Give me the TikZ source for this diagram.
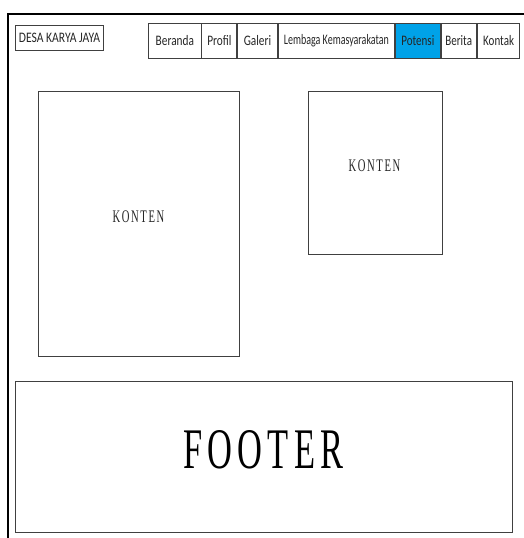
\documentclass[tikz,border=0pt]{standalone}
\usepackage{fontspec}
\usepackage{graphicx}
\setmainfont{Liberation Serif}
\newfontfamily\navfont{Carlito}
\newfontfamily\spacedserif[LetterSpace=15]{Liberation Serif}
\newcommand{\navtxt}[2][0.72]{{\navfont\fontsize{14.5}{14.5}\selectfont\scalebox{#1}[1]{#2}}}
\newcommand{\bigtxt}[2]{{\spacedserif\fontsize{#1}{#1}\selectfont\scalebox{0.6}[1]{#2}}}
\definecolor{navblue}{RGB}{0,162,232}
\begin{document}
\begin{tikzpicture}[x=1pt,y=-1pt,
  box/.style={draw=black!75, line width=0.9pt, inner sep=0pt, anchor=north west},
  navbox/.style={box, minimum height=35pt, text=black!85},
  lbl/.style={inner sep=0pt}]
\useasboundingbox (0,0) rectangle (524,538);
\fill[white] (0,0) rectangle (524,538);
% outer frame
\draw[line width=2pt] (8,538) -- (8,13.5) -- (524,13.5);
% logo box
\node[box, minimum width=88pt, minimum height=25pt, text=black!85] (logo) at (15,25) {\navtxt[0.8]{DESA KARYA JAYA}};
% navigation
\node[navbox, minimum width=52.2pt] (beranda) at (148.3,23) {\navtxt[0.78]{Beranda}};
\node[navbox, minimum width=35pt] (profil) at (beranda.north east) {\navtxt[0.78]{Profil}};
\node[navbox, minimum width=39.5pt] (galeri) at (profil.north east) {\navtxt[0.78]{Galeri}};
\node[navbox, minimum width=116.5pt] (lembaga) at (galeri.north east) {\navtxt[0.69]{Lembaga Kemasyarakatan}};
\node[navbox, minimum width=44.5pt, fill=navblue] (potensi) at (lembaga.north east) {\navtxt[0.76]{Potensi}};
\node[navbox, minimum width=35.5pt] (berita) at (potensi.north east) {\navtxt[0.76]{Berita}};
\node[navbox, minimum width=42.5pt] (kontak) at (berita.north east) {\navtxt[0.76]{Kontak}};
% content boxes
\node[box, minimum width=201pt, minimum height=265pt] (konten1) at (38,91) {};
\node[lbl, text=black!85] (konten1t) at (138.5,217) {\bigtxt{17.7}{KONTEN}};
\node[box, minimum width=134pt, minimum height=163pt] (konten2) at (308,91) {};
\node[lbl, text=black!85] (konten2t) at (374.5,166) {\bigtxt{17.7}{KONTEN}};
% footer
\node[box, minimum width=497pt, minimum height=151pt] (footer) at (15,381) {};
\node[lbl] (footert) at (263.5,450) {\bigtxt{57.4}{FOOTER}};
\end{tikzpicture}
\end{document}
